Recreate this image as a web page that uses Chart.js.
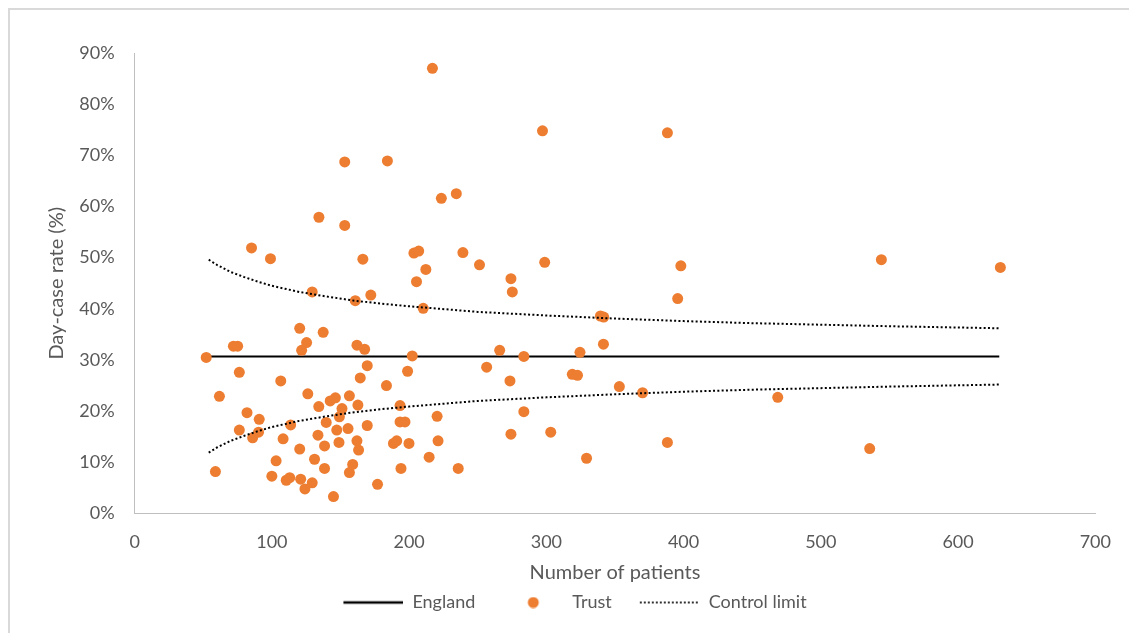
<!DOCTYPE html>
<html><head><meta charset="utf-8">
<script src="https://cdn.jsdelivr.net/npm/chart.js@4"></script>
<style>
html,body{margin:0;padding:0;background:#fff;}
#wrap{position:relative;width:1129px;height:633px;overflow:hidden;}
#frame{position:absolute;left:8px;top:8px;width:1300px;height:800px;border-left:2px solid #d9d9d9;border-top:2px solid #d9d9d9;}
canvas{position:absolute;left:0;top:0;}
</style></head><body>
<div id="wrap"><div id="frame"></div><canvas id="c" width="1129" height="633"></canvas></div>
<script>
// ---- data ----
const trustX = [52.2,58.9,61.8,72.0,75.1,76.3,76.3,81.9,85.2,86.0,90.3,90.8,99.0,100.0,103.1,106.5,108.2,110.5,113.0,113.7,
  120.3,120.3,121.0,121.7,124.1,125.3,126.2,129.4,129.4,131.1,133.6,134.2,134.3,137.4,138.4,138.4,139.6,142.5,146.3,144.9,
  147.3,148.9,149.2,151.1,153.1,153.1,155.5,156.5,156.5,158.9,160.8,162.0,162.0,162.7,163.2,164.4,166.3,167.6,169.5,169.5,
  172.1,177.0,183.5,184.2,188.6,191.0,193.4,193.4,197.0,194.1,198.9,199.9,202.3,203.5,207.0,205.4,210.3,212.2,214.6,217.0,
  220.4,221.1,223.5,234.4,235.8,239.2,251.3,256.5,266.0,273.5,274.2,275.2,274.2,283.6,283.6,297.2,298.8,303.2,318.9,322.7,
  324.5,329.3,339.4,341.8,341.6,353.2,370.1,388.2,388.2,395.7,398.0,468.6,535.6,544.1,630.8];
const trustY = [30.5,8.2,22.9,32.7,32.7,27.6,16.3,19.7,51.9,14.8,15.9,18.4,49.8,7.3,10.3,25.9,14.6,6.5,7.0,17.3,
  36.2,12.6,6.7,31.9,4.8,33.4,23.4,43.3,6.0,10.6,15.3,20.9,57.9,35.4,13.2,8.8,17.8,22.0,22.6,3.3,
  16.3,13.9,18.9,20.5,68.7,56.3,16.6,23.0,8.0,9.6,41.6,32.9,14.2,21.2,12.4,26.5,49.7,32.1,28.9,17.2,
  42.7,5.7,25.0,68.9,13.7,14.2,21.1,17.9,17.9,8.8,27.8,13.7,30.8,50.9,51.3,45.3,40.1,47.7,11.0,87.0,
  19.0,14.2,61.6,62.5,8.8,51.0,48.6,28.6,31.9,25.9,45.9,43.3,15.5,30.7,19.9,74.8,49.1,15.9,27.2,27.0,
  31.5,10.8,38.6,38.4,33.1,24.8,23.6,74.4,13.9,42.0,48.4,22.7,12.7,49.6,48.1];
const englandX = [53, 630];
const englandY = [30.7, 30.7];
const limitX = [54,60,70,80,90,100,120,140,160,180,200,250,300,350,400,450,500,550,630];
const upperY = [49.6,48.6,47.2,46.2,45.3,44.5,43.3,42.4,41.6,41.0,40.5,39.4,38.7,38.1,37.6,37.2,36.9,36.6,36.2];
const lowerY = [11.9,12.9,14.2,15.2,16.1,16.9,18.1,19.0,19.8,20.4,20.9,22.0,22.7,23.3,23.8,24.2,24.5,24.8,25.2];
const xTicks = [0,100,200,300,400,500,600,700];
const yTicks = [0,10,20,30,40,50,60,70,80,90];

const pts = (xs, ys) => xs.map((x, i) => ({x: x, y: ys[i]}));
const TXT = '#595959';
const FONT = 'Lato, "Open Sans", sans-serif';
const ORANGE = '#ED7D31';

// legend symbols
const SYM = 60, G = 20;
function mkLine(dashed) {
  const c = document.createElement('canvas'); c.width = SYM + G; c.height = 6;
  const x = c.getContext('2d'); x.strokeStyle = '#000';
  x.lineWidth = dashed ? 1.6 : 2.5; if (dashed) x.setLineDash([2, 2]);
  x.beginPath(); x.moveTo(G, 3); x.lineTo(G + SYM, 3); x.stroke(); return c;
}
function mkDot() {
  const c = document.createElement('canvas'); c.width = SYM + G; c.height = 12;
  const x = c.getContext('2d'); x.fillStyle = ORANGE;
  x.beginPath(); x.arc(G + SYM / 2, 6, 5.5, 0, Math.PI * 2); x.fill(); return c;
}
const icons = [mkLine(false), mkDot(), mkLine(true), mkLine(true)];

new Chart(document.getElementById('c'), {
  type: 'scatter',
  data: {
    datasets: [
      {label: 'England', data: pts(englandX, englandY), showLine: true, borderColor: '#000', borderWidth: 2,
       pointRadius: 0, fill: false, order: 3},
      {label: 'Trust', data: pts(trustX, trustY), backgroundColor: ORANGE, borderColor: ORANGE, borderWidth: 0,
       pointRadius: 5.5, order: 2},
      {label: 'Control limit', data: pts(limitX, upperY), showLine: true, borderColor: '#000', borderWidth: 2,
       borderDash: [2, 2.3], pointRadius: 0, fill: false, order: 1},
      {label: 'Control limit (lower)', data: pts(limitX, lowerY), showLine: true, borderColor: '#000', borderWidth: 2,
       borderDash: [2, 2.3], pointRadius: 0, fill: false, order: 1}
    ]
  },
  options: {
    responsive: false, animation: false, events: [],
    layout: {padding: {left: 29, right: 28, top: 53, bottom: 11.5}},
    plugins: {
      tooltip: {enabled: false},
      legend: {
        position: 'bottom',
        labels: {
          usePointStyle: true, pointStyleWidth: SYM + G, boxHeight: 18, padding: 8,
          color: TXT, font: {family: FONT, size: 18},
          generateLabels(chart) {
            const items = Chart.defaults.plugins.legend.labels.generateLabels(chart);
            return items.filter(i => i.datasetIndex !== 3)
              .map(i => { i.pointStyle = icons[i.datasetIndex]; i.fontColor = TXT; return i; })
              .sort((a, b) => a.datasetIndex - b.datasetIndex);
          }
        }
      }
    },
    scales: {
      x: {
        type: 'linear', min: 0, max: 700,
        afterBuildTicks(s) { s.ticks = xTicks.map(v => ({value: v})); },
        ticks: {color: TXT, font: {family: FONT, size: 18}, padding: 18},
        grid: {display: false, drawTicks: false},
        border: {display: true, color: '#bfbfbf', width: 1},
        title: {display: true, text: 'Number of patients', color: TXT, font: {family: FONT, size: 20}, padding: {top: 0, bottom: 1}},
        afterFit(s) { s.height = 72; }
      },
      y: {
        min: 0, max: 90,
        afterBuildTicks(s) { s.ticks = yTicks.map(v => ({value: v})); },
        ticks: {color: TXT, font: {family: FONT, size: 18}, padding: 20, callback: v => v + '%'},
        grid: {display: false, drawTicks: false},
        border: {display: true, color: '#bfbfbf', width: 1},
        title: {display: true, text: 'Day-case rate (%)', color: TXT, font: {family: FONT, size: 20}, padding: {top: 16, bottom: 0}},
        afterFit(s) { s.width = 105.6; }
      }
    }
  }
});
</script>
</body></html>
